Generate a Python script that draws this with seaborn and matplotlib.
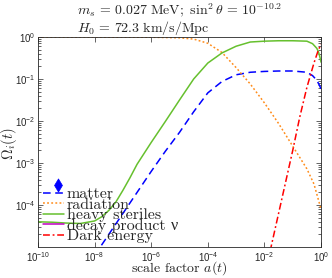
import numpy as np
import matplotlib
matplotlib.use("Agg")
import matplotlib.pyplot as plt
from matplotlib.ticker import LogLocator, NullLocator, NullFormatter
import seaborn as sns

# DATA (log10 values)
matter_loga = [-8.0, -7.5, -7.0, -6.5, -6.0, -5.5, -5.0, -4.5, -4.0, -3.5, -3.0, -2.5,
               -2.0, -1.5, -1.0, -0.5, -0.3, -0.15, -0.05, 0.0]
matter_logo = [-5.2, -4.7, -4.2, -3.7, -3.2, -2.72, -2.27, -1.78, -1.33, -1.06, -0.9, -0.84,
               -0.82, -0.81, -0.81, -0.84, -0.92, -1.03, -1.16, -1.24]

rad_loga = [-10.0, -9.0, -8.0, -7.0, -6.0, -5.0, -4.5, -4.0, -3.5, -3.0, -2.5, -2.0,
            -1.5, -1.0, -0.5, -0.25, 0.0]
rad_logo = [0.0, 0.0, 0.0, -0.003, -0.006, -0.02, -0.05, -0.15, -0.37, -0.73, -1.12, -1.57,
            -2.06, -2.6, -3.14, -3.5, -4.1]

ster_loga = [-10.0, -9.5, -9.0, -8.5, -8.0, -7.75, -7.5, -7.25, -7.0, -6.75, -6.5, -6.0,
             -5.5, -5.0, -4.5, -4.0, -3.5, -3.0, -2.5, -2.0, -1.5, -1.0, -0.5, -0.3,
             -0.15, -0.1, -0.05, 0.0]
ster_logo = [-4.40, -4.41, -4.43, -4.44, -4.38, -4.28, -4.13, -3.93, -3.65, -3.35, -3.03, -2.51,
             -2.01, -1.5, -1.0, -0.62, -0.38, -0.22, -0.12, -0.1, -0.09, -0.09, -0.1, -0.16,
             -0.27, -0.34, -0.45, -0.6]

decay_loga = [-10.0, -5.0, 0.0]
decay_logo = [-8.0, -7.5, -7.0]

de_loga = [-1.8, -1.5, -1.25, -1.0, -0.75, -0.5, -0.25, -0.1, 0.0]
de_logo = [-5.1, -4.2, -3.45, -2.7, -1.9, -1.2, -0.62, -0.32, -0.17]

marker_loga = [-9.29]
marker_logo = [-3.52]

series = [
    ("matter", matter_loga, matter_logo, "#0000ff", (0, (5, 3))),
    ("radiation", rad_loga, rad_logo, "#ff8c1a", (0, (1.2, 1.5))),
    ("heavy steriles", ster_loga, ster_logo, "#66c02e", "-"),
    ("decay product ν", decay_loga, decay_logo, "#c000c0", "-"),
    ("Dark energy", de_loga, de_logo, "#ff0000", (0, (4.5, 1.8, 1.2, 1.8))),
]

# STYLE
sns.set_style("ticks")
plt.rcParams["font.family"] = ["Liberation Sans", "DejaVu Sans"]
plt.rcParams["mathtext.fontset"] = "custom"
plt.rcParams["mathtext.rm"] = "Liberation Sans"
plt.rcParams["mathtext.it"] = "Liberation Sans:italic"
plt.rcParams["mathtext.bf"] = "Liberation Sans:bold"
plt.rcParams["xtick.direction"] = "in"
plt.rcParams["ytick.direction"] = "in"

fig = plt.figure(figsize=(3.32, 2.78), dpi=100)
ax = fig.add_axes([0.1145, 0.1115, 0.8525, 0.7555])

for label, lx, ly, color, ls in series:
    sns.lineplot(x=np.power(10.0, lx), y=np.power(10.0, ly), ax=ax, color=color,
                 linestyle=ls, linewidth=1.1, label=label)

sns.scatterplot(x=np.power(10.0, marker_loga), y=np.power(10.0, marker_logo), ax=ax,
                marker="d", s=45, color="#0000ff", edgecolor="#0000ff", linewidth=0.5)

ax.set_xscale("log")
ax.set_yscale("log")
ax.set_xlim(1e-10, 1)
ax.set_ylim(1e-5, 1)
ax.set_xticks([1e-10, 1e-8, 1e-6, 1e-4, 1e-2, 1])
ax.xaxis.set_minor_locator(NullLocator())
ax.set_yticks([1e-4, 1e-3, 1e-2, 1e-1, 1])
ax.yaxis.set_minor_locator(LogLocator(base=10, subs=np.arange(2, 10)))
ax.yaxis.set_minor_formatter(NullFormatter())
ax.tick_params(which="both", top=True, right=True, labelsize=7, width=0.5)
ax.tick_params(which="major", length=3.5, pad=2)
ax.tick_params(which="minor", length=2)
for sp in ax.spines.values():
    sp.set_linewidth(0.6)
    sp.set_visible(True)

ax.set_title("$m_s\\,=\\,0.027\\ \\mathrm{MeV;}\\ \\sin^2\\theta\\,=\\,10^{-10.2}$\n"
             "$H_0\\,=\\,72.3\\ \\mathrm{km/s/Mpc}$",
             fontsize=10, math_fontfamily="cm", ma="left", pad=3, linespacing=1.0)
ax.set_xlabel("scale factor $a(t)$", fontsize=10, family="cmr10",
              math_fontfamily="cm", labelpad=-3)
ax.set_ylabel("$\\Omega_i(t)$", fontsize=10.5, math_fontfamily="cm")
ax.yaxis.set_label_coords(-0.068, 0.49)

leg = ax.legend(loc="lower left", bbox_to_anchor=(0.0, -0.006), frameon=False,
                prop={"family": ["cmr10", "Liberation Serif"], "size": 11.5},
                handlelength=1.3, handletextpad=0.2, labelspacing=-0.23,
                borderaxespad=0.1, borderpad=0.2)

fig.savefig("out.png", dpi=100)
